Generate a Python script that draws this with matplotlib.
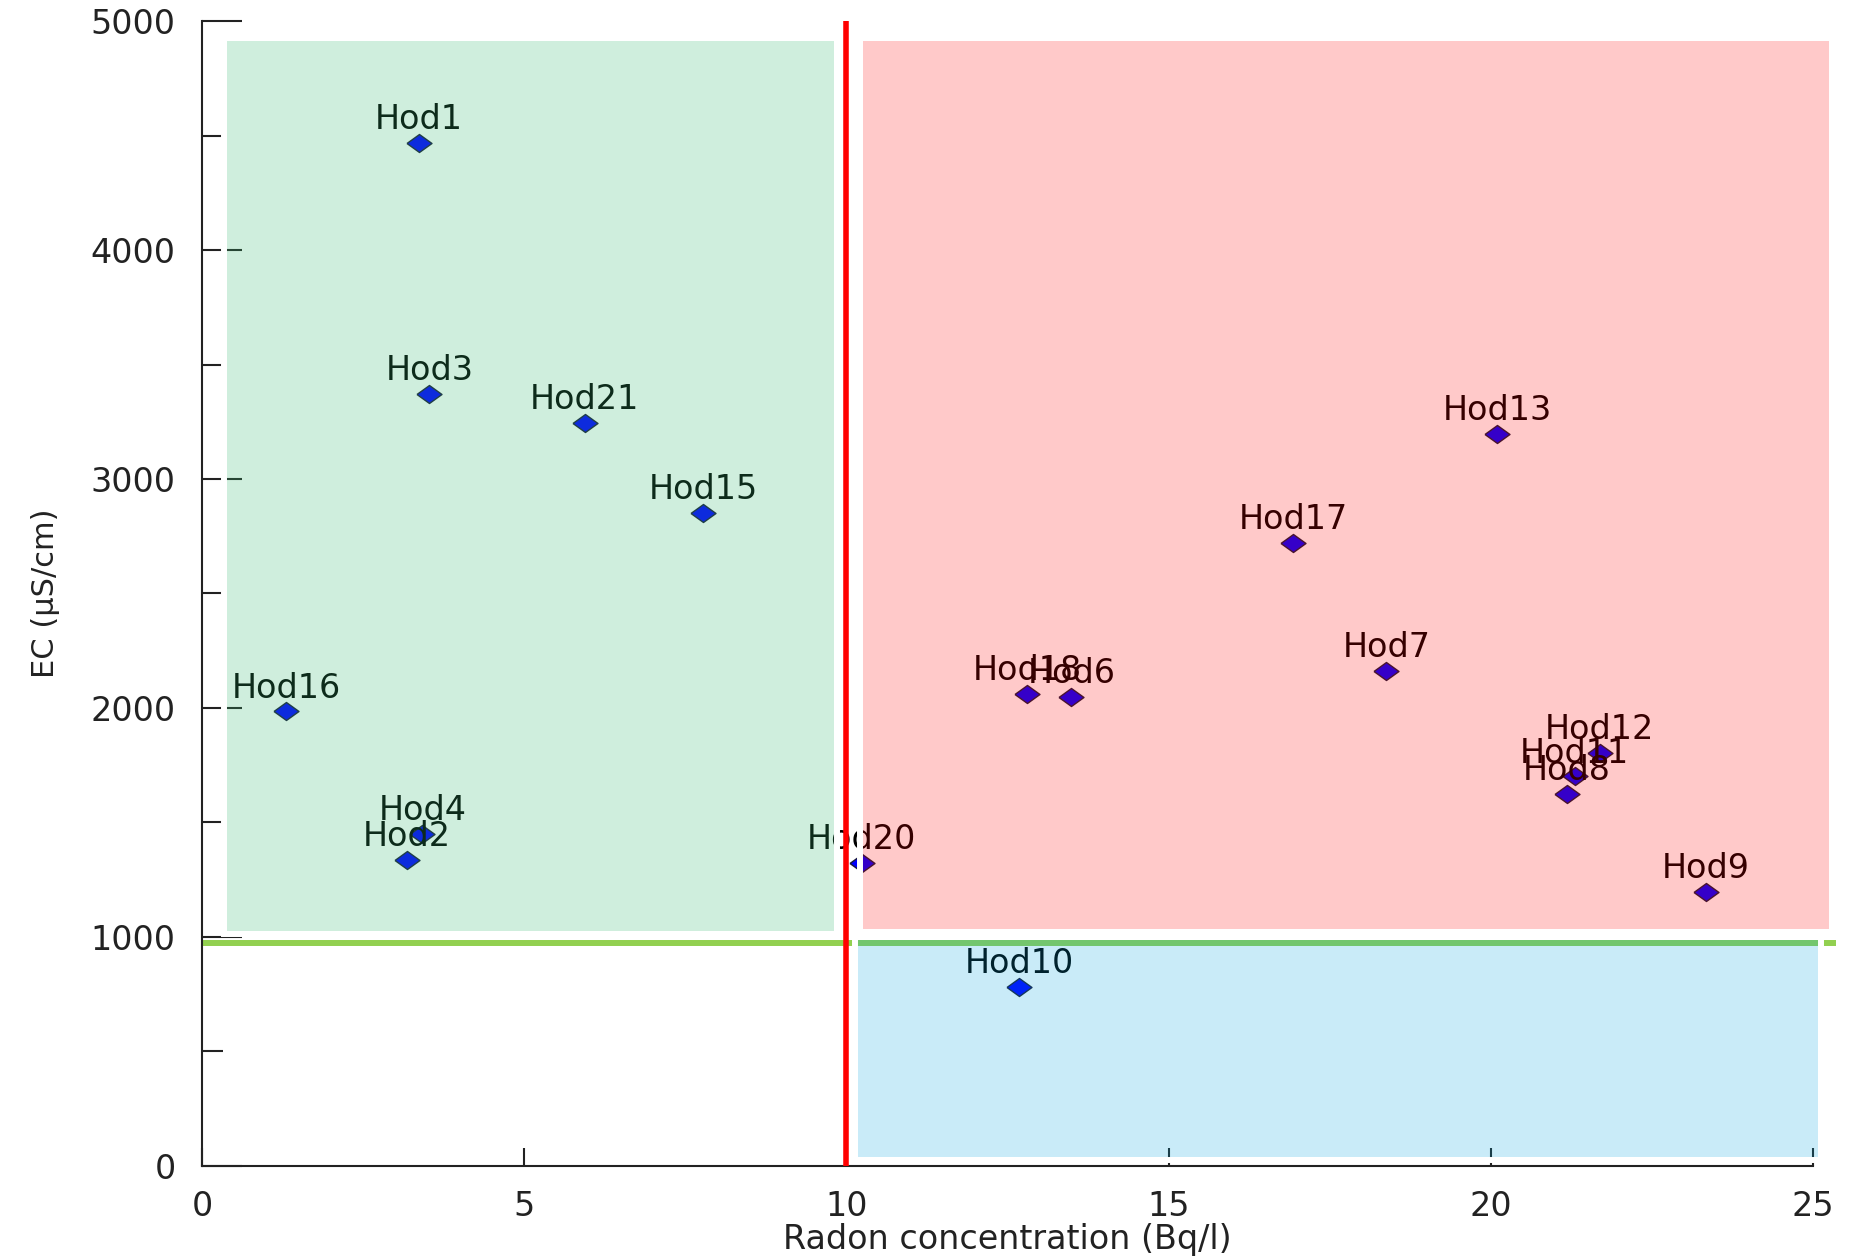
import matplotlib
matplotlib.use("Agg")
import matplotlib.pyplot as plt
from matplotlib.patches import Rectangle
from matplotlib.ticker import MultipleLocator

# ---------------- data ----------------
stations = ["Hod1", "Hod2", "Hod3", "Hod4", "Hod6", "Hod7", "Hod8", "Hod9",
            "Hod10", "Hod11", "Hod12", "Hod13", "Hod15", "Hod16", "Hod17",
            "Hod18", "Hod20", "Hod21"]
radon = [3.37, 3.18, 3.53, 3.42, 13.49, 18.38, 21.18, 23.34,
         12.68, 21.30, 21.69, 20.10, 7.78, 1.31, 16.93,
         12.81, 10.24, 5.94]
ec = [4468, 1336, 3372, 1449, 2047, 2160, 1624, 1196,
      780, 1701, 1804, 3196, 2851, 1985, 2722,
      2063, 1325, 3243]

radon_limit = 10
ec_limit = 975

x_ticks = [0, 5, 10, 15, 20, 25]
y_ticks = [0, 1000, 2000, 3000, 4000, 5000]

# shaded zones: (x0, x1, y0, y1, colour, alpha)
zones = [
    (0.39, 9.81, 1026, 4914, (55/255, 184/255, 113/255), 0.24),
    (10.26, 25.25, 1035, 4914, (1.0, 0.0, 0.0), 0.21),
    (10.18, 25.08, 39, 987, (0.0, 165/255, 222/255), 0.21),
]

# ---------------- figure ----------------
plt.rcParams["font.family"] = ["DejaVu Sans"]
fig = plt.figure(figsize=(18.5, 12.59), dpi=100)
ax = fig.add_axes([0.1092, 0.0739, 0.8708, 0.9094])
ax.set_xlim(0, 25)
ax.set_ylim(0, 5000)

# markers
diamond = [(-1, 0), (0, 0.72), (1, 0), (0, -0.72), (-1, 0)]
ax.scatter(radon, ec, marker=diamond, s=18 ** 2, c="#0000ff",
           edgecolors="#1a1a3a", linewidths=1.0, zorder=2)

for name, xv, yv in zip(stations, radon, ec):
    ax.annotate(name, (xv, yv), xytext=(0, 10), textcoords="offset points",
                ha="center", va="baseline", fontsize=24, color="black",
                zorder=2)

# threshold lines
ax.plot([0, 25.36], [ec_limit, ec_limit], color="#92d050", lw=4.3,
        solid_capstyle="butt", zorder=1.8, clip_on=False)
ax.plot([radon_limit, radon_limit], [0, 5000], color="#ff0000", lw=4,
        solid_capstyle="butt", zorder=5, clip_on=False)

# zones: white outer border + translucent fill
dx, dy = 0.047, 13
for x0, x1, y0, y1, col, a in zones:
    ax.add_patch(Rectangle((x0 - dx, y0 - dy), (x1 - x0) + 2 * dx,
                           (y1 - y0) + 2 * dy, fill=False,
                           edgecolor="white", lw=4.3, zorder=2.2,
                           clip_on=False))
    ax.add_patch(Rectangle((x0, y0), x1 - x0, y1 - y0, facecolor=col,
                           alpha=a, edgecolor="none", zorder=3,
                           clip_on=False))

# axes styling
for s in ["top", "right"]:
    ax.spines[s].set_visible(False)
for s in ["left", "bottom"]:
    ax.spines[s].set_linewidth(1.5)
    ax.spines[s].set_color("#222222")

ax.set_xticks(x_ticks)
ax.set_yticks(y_ticks)
ax.yaxis.set_minor_locator(MultipleLocator(500))
ax.tick_params(axis="y", which="major", direction="in", length=29,
               width=1.5, color="#222222", pad=19, labelsize=24,
               labelcolor="#222222")
ax.tick_params(axis="y", which="minor", direction="in", length=15,
               width=1.5, color="#222222")
ax.tick_params(axis="x", which="major", direction="in", length=13,
               width=1.5, color="#222222", pad=17, labelsize=24,
               labelcolor="#222222")

ax.set_xlabel("Radon concentration (Bq/l)", fontsize=24, color="#222222",
              labelpad=0)
ax.set_ylabel("EC (µS/cm)", fontsize=22, color="#222222", labelpad=22)

fig.savefig("out.png", dpi=100)
